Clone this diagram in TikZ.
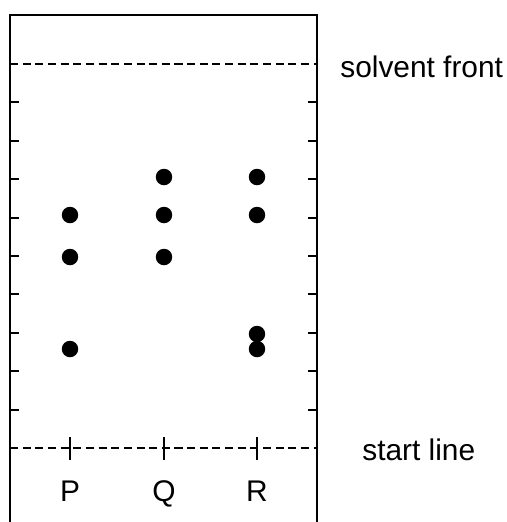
\documentclass[tikz,border=0pt]{standalone}
\usepackage{fontspec}
\setmainfont{Liberation Sans}
\begin{document}
\begin{tikzpicture}[x=0.02cm,y=-0.02cm,
	spot/.style={ circle, fill, inner sep=0pt, minimum size=0.33cm },
	lbl/.style={ font=\fontsize{17}{20}\selectfont, inner sep=0pt },
	frame/.style={ line width=1.1pt },
	front/.style={ line width=1.1pt, dash pattern=on 4.6pt off 2.6pt }
]
\useasboundingbox (0,0) rectangle (507,522);

% plate and the two lines
\draw[frame] (10,522) -- (10,15) -- (317,15) -- (317,522);
\draw[front] (10,64) -- (317,64);
\draw[front] (10,448) -- (317,448);
\foreach \i in {1,...,9} {
	\draw[frame] (10,64+38.4*\i) -- ++(9,0);
	\draw[frame] (317,64+38.4*\i) -- ++(-9,0);
}

% lanes
\foreach \x/\n in {70/P,164/Q,257/R} {
	\draw[frame] (\x,437) -- (\x,460);
	\node[lbl,anchor=base] (lane\n) at (\x,501) {\n};
}

% spots
\node at (70,215) (p1) [spot] {};
\node at (70,257) (p2) [spot] {};
\node at (70,349) (p3) [spot] {};
\node at (164,177) (q1) [spot] {};
\node at (164,215) (q2) [spot] {};
\node at (164,257) (q3) [spot] {};
\node at (257,177) (r1) [spot] {};
\node at (257,215) (r2) [spot] {};
\node at (257,334) (r3) [spot] {};
\node at (257,349) (r4) [spot] {};

\node[lbl,anchor=base west] (solvent) at (340,77) {solvent front};
\node[lbl,anchor=base west] (start) at (362,460) {start line};

\end{tikzpicture}
\end{document}
